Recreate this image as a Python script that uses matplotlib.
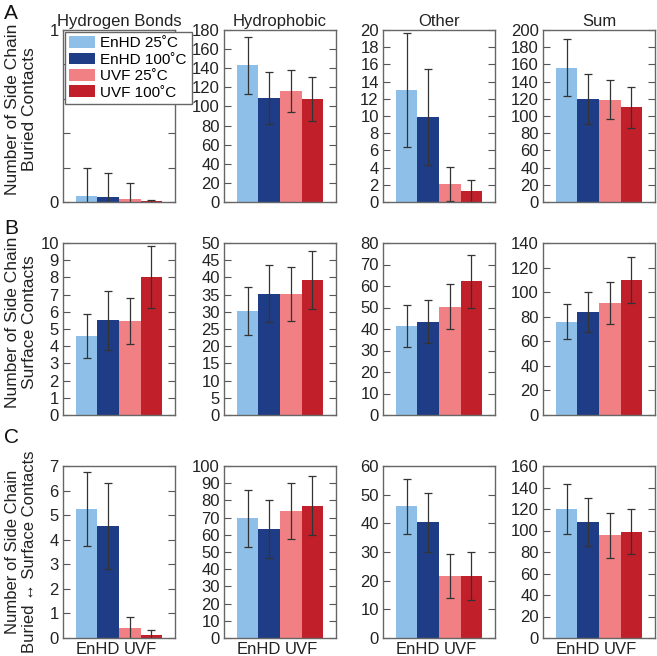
import numpy as np
import matplotlib.pyplot as plt

plt.rcParams['font.family'] = ['Liberation Sans', 'DejaVu Sans']

# series order: EnHD 25C, EnHD 100C, UVF 25C, UVF 100C
series = ['EnHD 25˚C', 'EnHD 100˚C', 'UVF 25˚C', 'UVF 100˚C']
colors = ['#8dbfe8', '#1f3d86', '#f08083', '#c1202a']
columns = ['Hydrogen Bonds', 'Hydrophobic', 'Other', 'Sum']
row_labels = ['Number of Side Chain\nBuried Contacts',
              'Number of Side Chain\nSurface Contacts',
              'Number of Side Chain\nBuried \u2194 Surface Contacts']
letters = ['A', 'B', 'C']
group_labels = ['EnHD', 'UVF']

# A: buried contacts
buried_mean = [[0.035, 0.03, 0.02, 0.006],
               [143, 109, 116, 108],
               [13.0, 9.9, 2.1, 1.3],
               [156, 120, 119, 110]]
buried_err = [[0.165, 0.14, 0.09, 0.006],
              [30, 27, 22, 23],
              [6.6, 5.6, 2.0, 1.3],
              [33, 29, 23, 24]]
# B: surface contacts
surface_mean = [[4.6, 5.5, 5.45, 8.0],
                [30.2, 35.2, 35.2, 39.2],
                [41.3, 43.4, 50.4, 62.3],
                [76, 84, 91, 110]]
surface_err = [[1.3, 1.7, 1.35, 1.8],
               [7.0, 8.3, 7.9, 8.4],
               [9.8, 9.9, 10.6, 12.3],
               [14.5, 16.5, 17.2, 19]]
# C: buried <-> surface contacts
exchange_mean = [[5.25, 4.55, 0.4, 0.12],
                 [69.5, 63.5, 74, 77],
                 [46, 40.3, 21.7, 21.7],
                 [120, 108, 95.5, 99]]
exchange_err = [[1.5, 1.75, 0.47, 0.21],
                [16.8, 16.7, 16.3, 17.3],
                [9.6, 10.2, 7.6, 8.4],
                [23.5, 22, 20.8, 21.2]]

ylims = [[1, 180, 20, 200],
         [10, 50, 80, 140],
         [7, 100, 60, 160]]
ysteps = [[1, 20, 2, 20],
          [1, 5, 10, 20],
          [1, 10, 10, 20]]

means = [buried_mean, surface_mean, exchange_mean]
errs = [buried_err, surface_err, exchange_err]

W, H = 657, 656
fig = plt.figure(figsize=(W / 100, H / 100), dpi=100)

col_left = [63, 224, 383, 543]
col_w = 112
row_top = [30, 243, 466]
row_h = 172
letter_top = [4, 219, 428]
label_shift = [7, 7, 0]
label_size = [12.5, 12.5, 12]

x = np.arange(4)
for r in range(3):
    for c in range(4):
        ax = fig.add_axes([col_left[c] / W, 1 - (row_top[r] + row_h) / H,
                           col_w / W, row_h / H])
        ax.bar(x, means[r][c], width=1.0, color=colors, label=series,
               yerr=errs[r][c], capsize=3,
               error_kw=dict(ecolor='#333333', elinewidth=0.9, capthick=0.9))
        ax.set_xlim(-1.1, 4.1)
        ax.set_ylim(0, ylims[r][c])
        ticks = np.arange(0, ylims[r][c] + ysteps[r][c] / 2, ysteps[r][c])
        ax.set_yticks(ticks)
        ax.set_yticklabels([f'{t:g}' for t in ticks])
        if r == 0 and c == 0:
            ax.set_yticks(np.arange(0.2, 1.0, 0.2), minor=True)
        ax.tick_params(axis='y', which='both', direction='in', left=True,
                       right=True, length=5, width=0.8, color='#555555',
                       labelsize=12, labelcolor='#222222', pad=3)
        for s in ax.spines.values():
            s.set_color('#666666')
            s.set_linewidth(1.0)
        if r == 2:
            ax.set_xticks([0.5, 2.5])
            ax.set_xticklabels(group_labels, fontsize=12, color='#222222')
            ax.tick_params(axis='x', length=0, pad=3)
        else:
            ax.set_xticks([])
        if r == 0:
            ax.set_title(columns[c], fontsize=12, color='#222222', pad=3)
        if r == 0 and c == 0:
            ax.legend(loc='upper left', bbox_to_anchor=(0.0, 1.0),
                      borderaxespad=0.1, fancybox=False, framealpha=1,
                      edgecolor='#666666', fontsize=11, handlelength=1.7,
                      handleheight=0.8, handletextpad=0.35, labelspacing=0.15,
                      borderpad=0.3)
    ycen = 1 - (row_top[r] + row_h / 2 - label_shift[r]) / H
    fig.text(21 / W, ycen, row_labels[r], rotation=90, ha='center',
             va='center', fontsize=label_size[r], color='#222222',
             linespacing=1.15)
    fig.text(4 / W, 1 - letter_top[r] / H, letters[r], ha='left',
             va='top', fontsize=15, color='#111111')

fig.savefig('out.png', dpi=100)
